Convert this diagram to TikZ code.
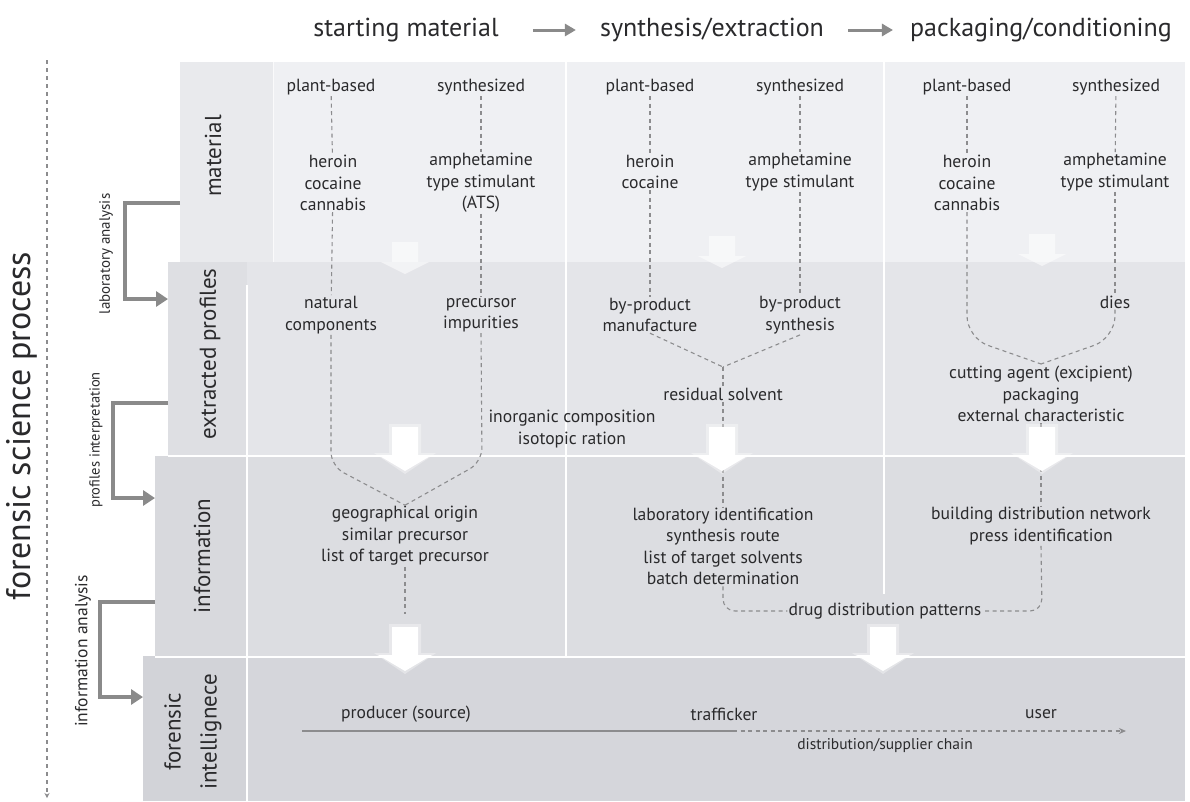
\documentclass[tikz,border=0pt]{standalone}
\usepackage{fontspec}
\setmainfont{PT Sans}
\usetikzlibrary{arrows.meta}

\definecolor{ink}{HTML}{2A2A2C}
\definecolor{bandA}{HTML}{EFF0F3}
\definecolor{bandAlab}{HTML}{E9EAED}
\definecolor{bandB}{HTML}{E4E5E9}
\definecolor{bandBlab}{HTML}{DEDFE3}
\definecolor{bandC}{HTML}{DCDDE1}
\definecolor{bandClab}{HTML}{D8D9DD}
\definecolor{bandD}{HTML}{D5D6DB}
\definecolor{bandDlab}{HTML}{D2D3D8}
\definecolor{linegray}{HTML}{8C8C8E}
\definecolor{brgray}{HTML}{8A8A8A}

\tikzset{
  txt/.style={font=\fontsize{17.6}{21.5}\selectfont, text=ink, align=center, inner sep=1pt},
  hdr/.style={font=\fontsize{26}{30}\selectfont, text=ink, inner sep=2pt},
  bandlab/.style={font=\fontsize{23}{26}\selectfont, text=ink, rotate=90, align=center, inner sep=0pt},
  sidelab/.style={font=\fontsize{15}{17}\selectfont, text=ink, rotate=90, inner sep=0pt},
  band/.style={anchor=north west, inner sep=0pt, outer sep=0pt},
  dashln/.style={draw=linegray, line width=1.1pt, dash pattern=on 4pt off 3.5pt},
  bracket/.style={draw=brgray, line width=3.5pt, -{Triangle[length=12pt,width=15pt]}},
  hdrarrow/.style={draw=brgray, line width=3pt, -{Triangle[length=11pt,width=12pt]}},
  divider/.style={draw=white, line width=2pt},
  downarrow/.pic={
    \fill[white, opacity=0.35] (-16,-3) -- (16,-3) -- (16,26) -- (31,26) -- (0,47) -- (-31,26) -- (-16,26) -- cycle;
    \fill[white] (-13,0) -- (13,0) -- (13,28) -- (27,28) -- (0,44) -- (-27,28) -- (-13,28) -- cycle;
  },
  fadearrow/.pic={
    \fill[white, opacity=0.55] (-13,0) -- (13,0) -- (13,20) -- (24,20) -- (0,32) -- (-24,20) -- (-13,20) -- cycle;
  }
}

\begin{document}
\begin{tikzpicture}[x=1pt,y=-1pt]
\useasboundingbox[fill=white] (0,0) rectangle (1190,801);

% ---- horizontal bands ----
\node[band, fill=bandA, minimum width=1005pt, minimum height=200pt] (matband) at (180,62) {};
\fill[bandAlab] (180,62) rectangle (273,262);
\node[band, fill=bandB, minimum width=1017pt, minimum height=194pt] (extband) at (168,262) {};
\fill[bandBlab] (168,262) rectangle (247,456);
\node[band, fill=bandC, minimum width=1030pt, minimum height=200pt] (infband) at (155,456) {};
\fill[bandClab] (155,456) rectangle (247,656);
\node[band, fill=bandD, minimum width=1042pt, minimum height=145pt] (intband) at (143,656) {};
\fill[bandDlab] (143,656) rectangle (247,801);

% band separators
\draw[divider] (168,456) -- (1185,456);
\draw[divider] (155,656.5) -- (1185,656.5);
\draw[divider] (247,285) -- (247,801);
\draw[divider, line width=1.5pt] (566,62) -- (566,656);
\draw[divider, line width=1.5pt] (884,62) -- (884,594);
\draw[divider, line width=1pt, white!70!bandA] (273,62) -- (273,262);

% ---- header ----
\node[hdr] (h1) at (406,30) {starting material};
\node[hdr] (h2) at (712,30) {synthesis/extraction};
\node[hdr] (h3) at (1041,30) {packaging/conditioning};
\draw[hdrarrow, shorten <=32pt, shorten >=22pt] (h1.east) -- (h2.west);
\draw[hdrarrow, shorten <=22pt, shorten >=15pt] (h2.east) -- (h3.west);

% ---- process axis ----
\coordinate (ptop) at (47,60);
\coordinate (pbot) at (47,798);
\draw[draw=linegray, line width=1.2pt, dash pattern=on 4pt off 4pt, -{Stealth[length=5pt,width=5pt]}] (ptop) -- (pbot);
\node[font=\fontsize{34}{36}\selectfont, text=ink, rotate=90] (proc) at (22,426) {forensic science process};

% ---- band labels ----
\node[bandlab] (lmat) at (213,156) {material};
\node[bandlab] (lext) at (210,354) {extracted profiles};
\node[bandlab] (linf) at (202,556) {information};
\node[bandlab, align=center, font=\fontsize{23}{36}\selectfont] (lint) at (193,732) {forensic\\intellignece};

% ---- side brackets ----
\draw[bracket] (matband.west |- 0,203) -- (125,203) -- (125,299) -- (extband.west |- 0,299);
\node[sidelab] (slab) at (106,254) {laboratory analysis};
\draw[bracket] (extband.west |- 0,403) -- (113,403) -- (113,498) -- (infband.west |- 0,498);
\node[sidelab, font=\fontsize{14.5}{16}\selectfont] (sprof) at (96,440) {profiles interpretation};
\draw[bracket] (infband.west |- 0,602) -- (100,602) -- (100,697) -- (intband.west |- 0,697);
\node[sidelab, font=\fontsize{17.5}{19}\selectfont] (sinf) at (83,651) {information analysis};

% ---- material level ----
\node[txt] (pb1) at (331,87) {plant-based};
\node[txt] (sy1) at (481,87) {synthesized};
\node[txt] (her1) at (333,183) {heroin\\cocaine\\cannabis};
\node[txt] (amp1) at (481,183) {amphetamine\\type stimulant\\(ATS)};
\node[txt] (pb2) at (650,87) {plant-based};
\node[txt] (sy2) at (800,87) {synthesized};
\node[txt] (her2) at (650,172) {heroin\\cocaine};
\node[txt] (amp2) at (800,172) {amphetamine\\type stimulant};
\node[txt] (pb3) at (967,87) {plant-based};
\node[txt] (sy3) at (1116,87) {synthesized};
\node[txt] (her3) at (967,183) {heroin\\cocaine\\cannabis};
\node[txt] (amp3) at (1115,172) {amphetamine\\type stimulant};

% ---- extracted profiles level ----
\node[txt] (nat) at (331,315) {natural\\components};
\node[txt] (pre) at (481,315) {precursor\\impurities};
\node[txt] (bpm) at (650,315) {by-product\\manufacture};
\node[txt] (bps) at (800,315) {by-product\\synthesis};
\node[txt] (dies) at (1115,302) {dies};
\node[txt] (res) at (723,394) {residual solvent};
\node[txt] (inorg) at (572,429) {inorganic composition\\isotopic ration};
\node[txt] (cut) at (1041,394) {cutting agent (excipient)\\packaging\\external characteristic};

% ---- information level ----
\node[txt] (geo) at (405,536) {geographical origin\\similar precursor\\list of target precursor};
\node[txt] (lab) at (723,546.5) {laboratory identification\\synthesis route\\list of target solvents\\batch determination};
\node[txt] (bdn) at (1041,526) {building distribution network\\press identification};
\node[txt] (ddp) at (885,611) {drug distribution patterns};

% ---- intelligence level ----
\node[txt] (prod) at (406,714) {producer (source)};
\node[txt] (traf) at (724,714) {trafficker};
\node[txt] (user) at (1041,714) {user};
\node[txt, font=\fontsize{15.5}{18}\selectfont] (chain) at (885,746) {distribution/supplier chain};

% ---- dashed flow lines ----
\draw[dashln] (pb1) -- (her1);
\draw[dashln] (her1) -- (nat);
\draw[dashln, rounded corners=14pt] (nat.south) -- (331,466) -- (geo.north);
\draw[dashln] (sy1) -- (amp1);
\draw[dashln] (amp1) -- (pre);
\draw[dashln, rounded corners=14pt] (pre.south) -- (482,462) -- (geo.north);
\coordinate (geoend) at (405,614);
\draw[dashln] (geo.south) -- (geoend);

\draw[dashln] (pb2) -- (her2);
\draw[dashln] (her2) -- (bpm);
\draw[dashln] (sy2) -- (amp2);
\draw[dashln] (amp2) -- (bps);
\coordinate (merge2) at (723,367);
\draw[dashln] (bpm.south) -- (merge2);
\draw[dashln] (bps.south) -- (merge2);
\draw[dashln] (merge2) -- (res.north);
\draw[dashln] (res.south) -- (lab.north);
\draw[dashln, rounded corners=12pt] (lab.south) -- (723,611) -- (ddp.west);

\draw[dashln] (pb3) -- (her3);
\draw[dashln] (sy3) -- (amp3);
\draw[dashln] (amp3) -- (dies);
\coordinate (merge3) at (1041,364);
\draw[dashln, rounded corners=22pt] (her3.south) -- (967,338) -- (merge3);
\draw[dashln, rounded corners=22pt] (dies.south) -- (1115,338) -- (merge3);
\draw[dashln] (cut.south) -- (bdn.north);
\draw[dashln, rounded corners=12pt] (bdn.south) -- (1042,611) -- (ddp.east);

% ---- supply chain ----
\coordinate (cstart) at (302,731);
\coordinate (cmid) at (733,731);
\coordinate (cend) at (1126,731);
\draw[draw=linegray, line width=1.6pt] (cstart) -- (cmid);
\draw[dashln, -{Stealth[length=7pt,width=6pt]}] (cmid) -- (cend);

% ---- transition arrows ----
\pic at (405,242) {fadearrow};
\pic at (722,236) {fadearrow};
\pic at (1042,234) {fadearrow};
\pic at (405,427) {downarrow};
\pic at (722,427) {downarrow};
\pic at (1042,427) {downarrow};
\pic at (405,627) {downarrow};
\pic at (883,627) {downarrow};
\end{tikzpicture}
\end{document}
